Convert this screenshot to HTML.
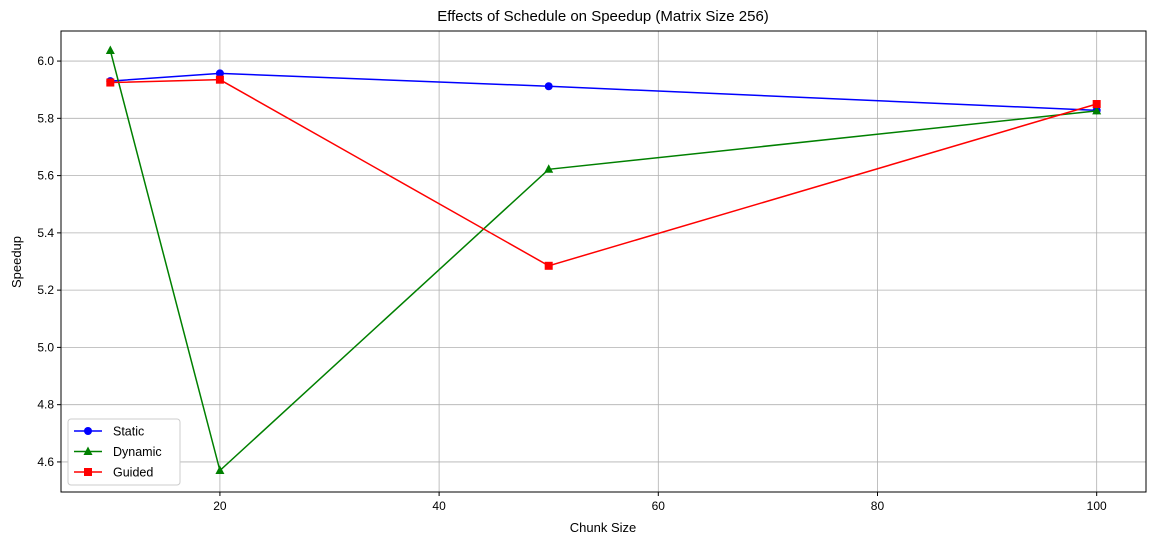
<!DOCTYPE html>
<html><head><meta charset="utf-8"><style>
body{margin:0;background:#fff;}
svg text{font-family:"Liberation Sans","DejaVu Sans",sans-serif;fill:#000;}
</style></head><body>
<svg id="chart" width="1156" height="545">
<rect x="0" y="0" width="1156" height="545" fill="#fff"/>
<text x="603" y="21" font-size="15" text-anchor="middle">Effects of Schedule on Speedup (Matrix Size 256)</text>
<g id="grid"></g>
<g id="series"></g>
<rect x="61" y="31" width="1085" height="461" fill="none" stroke="#000" stroke-width="1"/>
<g id="ticks"></g>
<text x="603" y="532" font-size="13" text-anchor="middle">Chunk Size</text>
<text x="21" y="262" font-size="13" text-anchor="middle" transform="rotate(-90 21 262)">Speedup</text>
<g id="legend"></g>
</svg>
<script>
const chunkSizes=[10,20,50,100];
const staticVals=[5.930,5.957,5.912,5.828];
const dynamicVals=[6.037,4.570,5.622,5.826];
const guidedVals=[5.925,5.935,5.285,5.850];
const xTicks=[20,40,60,80,100];
const yTicks=[4.6,4.8,5.0,5.2,5.4,5.6,5.8,6.0];
const L=61,R=1146,T=31,B=492,xmin=5.5,xmax=104.5,ymin=4.495,ymax=6.105;
const xs=v=>L+(v-xmin)/(xmax-xmin)*(R-L);
const ys=v=>B-(v-ymin)/(ymax-ymin)*(B-T);
const NS="http://www.w3.org/2000/svg";
function mk(tag,attrs,parent){const e=document.createElementNS(NS,tag);for(const k in attrs)e.setAttribute(k,attrs[k]);parent.appendChild(e);return e;}
const grid=document.getElementById('grid'),ticks=document.getElementById('ticks'),ser=document.getElementById('series'),leg=document.getElementById('legend');
xTicks.forEach(t=>{const x=xs(t);
 const g=mk('line',{x1:x,x2:x,y1:T,y2:B,stroke:'#b0b0b0','stroke-width':0.8},grid);
 
 
 mk('line',{x1:x,x2:x,y1:B,y2:B+4,stroke:'#000'},ticks);
 const tx=mk('text',{x:x,y:B+18,'font-size':12,'text-anchor':'middle'},ticks);tx.textContent=t;
 
 });
yTicks.forEach(t=>{const y=ys(t);
 const g=mk('line',{x1:L,x2:R,y1:y,y2:y,stroke:'#b0b0b0','stroke-width':0.8},grid);
 
 
 mk('line',{x1:L-4,x2:L,y1:y,y2:y,stroke:'#000'},ticks);
 const tx=mk('text',{x:L-7,y:y+4,'font-size':12,'text-anchor':'end'},ticks);tx.textContent=t.toFixed(1);
 
 });
function marker(kind,x,y,color,parent){
 if(kind==='o')return mk('circle',{cx:x,cy:y,r:4,fill:color},parent);
 if(kind==='^')return mk('polygon',{points:`${x},${y-5} ${x-4.5},${y+3.5} ${x+4.5},${y+3.5}`,fill:color},parent);
 return mk('rect',{x:x-4,y:y-4,width:8,height:8,fill:color},parent);}
const series=[['Static',staticVals,'#0000ff','o'],['Dynamic',dynamicVals,'#008000','^'],['Guided',guidedVals,'#ff0000','s']];
series.forEach(([name,vals,c,m])=>{
 const g=mk('g',{},ser);
 
 
 mk('polyline',{points:vals.map((v,i)=>xs(chunkSizes[i])+','+ys(v)).join(' '),fill:'none',stroke:c,'stroke-width':1.5},g);
 vals.forEach((v,i)=>{const p=marker(m,xs(chunkSizes[i]),ys(v),c,g);
  
  });
});
mk('rect',{x:68,y:419,width:112,height:66,fill:'#fff',stroke:'#ccc',rx:3},leg);
series.forEach(([name,vals,c,m],i)=>{const y=431+i*20.5;
 const g=mk('g',{},leg);
 
 
 mk('line',{x1:74,x2:102,y1:y,y2:y,stroke:c,'stroke-width':1.5},g);
 marker(m,88,y,c,g);
 const t=mk('text',{x:113,y:y+4.5,'font-size':12.5},g);t.textContent=name;});
</script>
</body></html>
